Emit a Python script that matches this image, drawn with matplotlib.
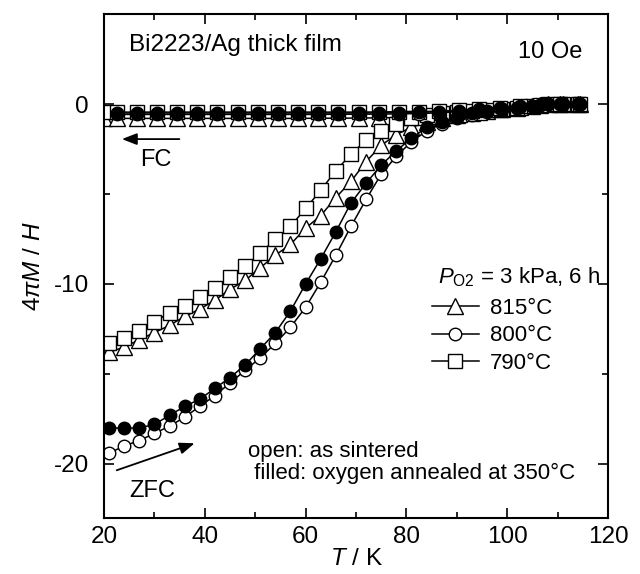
import numpy as np
import matplotlib.pyplot as plt
from matplotlib.ticker import MultipleLocator

plt.rcParams['font.family'] = ['Liberation Sans', 'DejaVu Sans']
plt.rcParams['mathtext.fontset'] = 'custom'
plt.rcParams['mathtext.it'] = 'Liberation Sans:italic'
plt.rcParams['mathtext.rm'] = 'Liberation Sans'
plt.rcParams['axes.unicode_minus'] = False

# ZFC temperatures (K)
T_zfc = [21, 24, 27, 30, 33, 36, 39, 42, 45, 48, 51, 54, 57, 60, 63, 66,
         69, 72, 75, 78, 81, 84, 87, 90, 93, 96, 99, 102, 105, 108, 111, 114]

zfc_815 = [-13.8, -13.5, -13.1, -12.7, -12.3, -11.8, -11.4, -10.9, -10.3, -9.8,
           -9.1, -8.4, -7.8, -6.9, -6.2, -5.2, -4.3, -3.2, -2.3, -1.7, -1.3,
           -1.0, -0.8, -0.6, -0.5, -0.4, -0.3, -0.2, -0.1, 0.0, 0.0, 0.0]
zfc_800 = [-19.4, -19.0, -18.7, -18.3, -17.9, -17.4, -16.8, -16.2, -15.5, -14.8,
           -14.1, -13.3, -12.4, -11.3, -9.9, -8.4, -6.8, -5.3, -3.9, -2.9, -2.1,
           -1.5, -1.1, -0.8, -0.6, -0.45, -0.3, -0.2, -0.1, 0.0, 0.0, 0.0]
zfc_790 = [-13.3, -13.0, -12.6, -12.1, -11.6, -11.2, -10.7, -10.2, -9.6, -9.0,
           -8.3, -7.5, -6.8, -5.8, -4.8, -3.7, -2.8, -2.0, -1.5, -1.1, -0.8,
           -0.6, -0.5, -0.45, -0.4, -0.35, -0.3, -0.2, -0.1, 0.0, 0.0, 0.0]
zfc_ann = [-18.0, -18.0, -18.0, -17.8, -17.3, -16.8, -16.4, -15.8, -15.2, -14.5,
           -13.6, -12.7, -11.5, -10.0, -8.6, -7.1, -5.5, -4.4, -3.4, -2.6, -1.9,
           -1.3, -1.0, -0.7, -0.5, -0.4, -0.3, -0.2, -0.1, 0.0, 0.0, 0.0]

# FC temperatures (K)
T_fc = [20, 22.5, 26.5, 30.5, 34.5, 38.5, 42.5, 46.5, 50.5, 54.5, 58.5, 62.5,
        66.5, 70.5, 74.5, 78.5, 82.5, 86.5, 90.5, 94.5, 98.5, 102.5, 106.5,
        110.5, 114.5]

fc_815 = [-0.8, -0.8, -0.8, -0.8, -0.8, -0.8, -0.8, -0.8, -0.8, -0.8,
          -0.8, -0.79, -0.79, -0.78, -0.77, -0.75, -0.72, -0.66, -0.55, -0.42,
          -0.3, -0.17, -0.06, 0.0, 0.0]
fc_800 = [-0.58, -0.58, -0.58, -0.58, -0.58, -0.58, -0.58, -0.58, -0.58, -0.58,
          -0.58, -0.58, -0.57, -0.57, -0.56, -0.55, -0.53, -0.49, -0.42, -0.33,
          -0.24, -0.14, -0.05, 0.0, 0.0]
fc_790 = [-0.45, -0.45, -0.45, -0.45, -0.45, -0.45, -0.45, -0.45, -0.45, -0.45,
          -0.45, -0.45, -0.45, -0.45, -0.44, -0.43, -0.42, -0.4, -0.36, -0.3,
          -0.22, -0.13, -0.05, 0.0, 0.0]
fc_ann = [-0.5, -0.5, -0.5, -0.5, -0.5, -0.5, -0.5, -0.5, -0.5, -0.5,
          -0.5, -0.5, -0.5, -0.5, -0.49, -0.48, -0.46, -0.43, -0.37, -0.3,
          -0.22, -0.13, -0.05, 0.0, 0.0]

fig = plt.figure(figsize=(6.4, 5.74), dpi=100)
ax = fig.add_axes([0.1625, 0.0976, 0.7875, 0.878])

lw = 1.1
common = dict(color='black', lw=lw, mec='black', mew=1.0)

# open samples
l815, = ax.plot(T_zfc, zfc_815, marker='^', ms=11, mfc='white', **common)
ax.plot(T_fc, fc_815, marker='^', ms=11, mfc='white', **common)
l790, = ax.plot(T_zfc, zfc_790, marker='s', ms=10, mfc='white', **common)
ax.plot(T_fc, fc_790, marker='s', ms=10, mfc='white', **common)
l800, = ax.plot(T_zfc, zfc_800, marker='o', ms=9, mfc='white', **common)
ax.plot(T_fc[1:], fc_800[1:], marker='o', ms=9, mfc='white', **common)
# annealed
ax.plot(T_zfc, zfc_ann, marker='o', ms=9, mfc='black', **common)
ax.plot(T_fc[1:], fc_ann[1:], marker='o', ms=9, mfc='black', **common)

ax.set_xlim(20, 120)
ax.set_ylim(-23, 5)
ax.xaxis.set_major_locator(MultipleLocator(20))
ax.xaxis.set_minor_locator(MultipleLocator(10))
ax.yaxis.set_major_locator(MultipleLocator(10))
ax.yaxis.set_minor_locator(MultipleLocator(5))
ax.tick_params(which='both', direction='in', top=True, right=True, width=1.2)
ax.tick_params(which='major', length=7, labelsize=17.5, pad=6)
ax.tick_params(axis='y', which='major', pad=11)
ax.tick_params(which='minor', length=4)
for s in ax.spines.values():
    s.set_linewidth(1.5)

ax.set_xlabel('$T$ / K', fontsize=17.5, labelpad=0)
ax.set_ylabel(r'4$\pi$$M$ / $H$', fontsize=17.5, labelpad=6)

ax.text(25, 3.3, 'Bi2223/Ag thick film', fontsize=17.5, va='center')
ax.text(115, 2.9, '10 Oe', fontsize=17, va='center', ha='right')

ax.annotate('', xy=(23, -1.95), xytext=(35.5, -1.95),
            arrowprops=dict(arrowstyle='-|>,head_length=0.9,head_width=0.35',
                            color='black', lw=1.3))
ax.text(30.3, -3.1, 'FC', fontsize=17, ha='center', va='center')

ax.annotate('', xy=(38.5, -18.8), xytext=(22, -20.4),
            arrowprops=dict(arrowstyle='-|>,head_length=0.9,head_width=0.35',
                            color='black', lw=1.3))
ax.text(29.5, -21.5, 'ZFC', fontsize=17, ha='center', va='center')

ax.text(86.3, -9.6, '$P_{\\mathrm{O2}}$ = 3 kPa, 6 h', fontsize=16, va='center')
leg = ax.legend([l815, l800, l790], ['815°C', '800°C', '790°C'],
                loc='upper left', bbox_to_anchor=(0.62, 0.468), frameon=False,
                fontsize=16, handlelength=2.1, handletextpad=0.5,
                labelspacing=0.3, borderpad=0.2)

ax.text(48.5, -19.3, 'open: as sintered', fontsize=16, va='center')
ax.text(48.5, -20.55, ' filled: oxygen annealed at 350°C', fontsize=16, va='center')

fig.savefig('out.png', dpi=100)
